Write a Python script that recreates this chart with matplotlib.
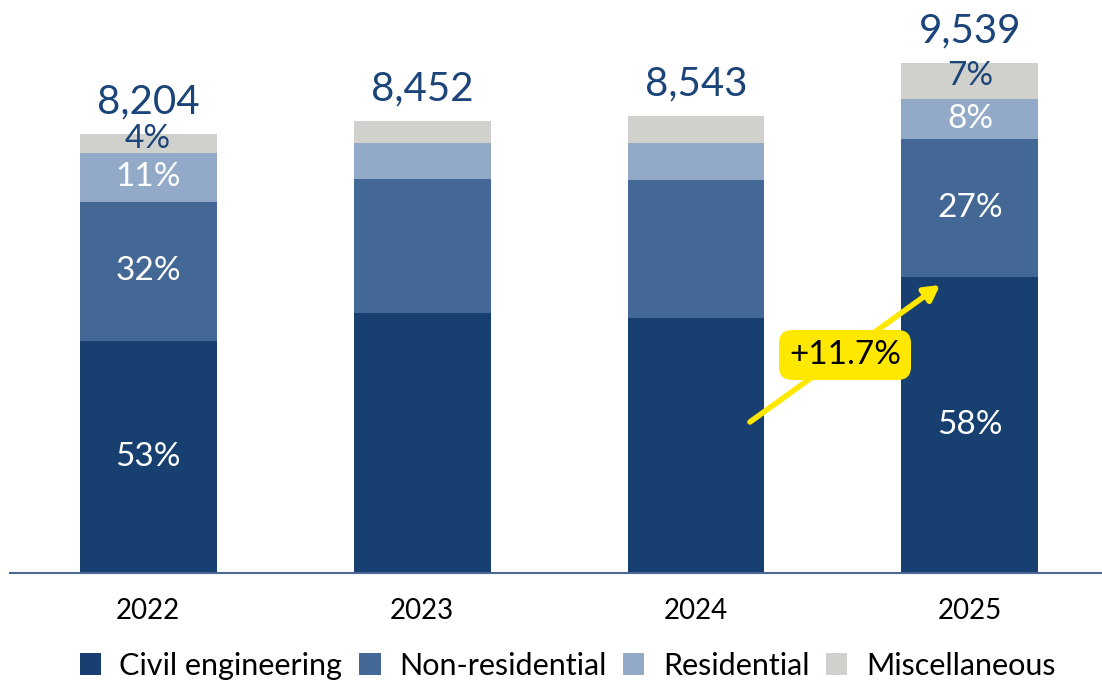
import matplotlib
matplotlib.use("Agg")
import matplotlib.pyplot as plt
from matplotlib.patches import Patch
import numpy as np

plt.rcParams['font.family'] = ['Lato', 'DejaVu Sans']

years = ["2022", "2023", "2024", "2025"]
totals = [8204, 8452, 8543, 9539]
series_names = ["Civil engineering", "Non-residential", "Residential", "Miscellaneous"]
civil = [4345, 4862, 4769, 5530]
non_res = [2600, 2507, 2581, 2590]
residential = [915, 673, 692, 745]
misc = [344, 410, 501, 674]
pct_labels = [
    ["53%", "", "", "58%"],
    ["32%", "", "", "27%"],
    ["11%", "", "", "8%"],
    ["4%", "", "", "7%"],
]
growth_label = "+11.7%"

colors = ["#173F6F", "#436895", "#93A9C8", "#D0D1CC"]
pct_colors = ["white", "white", "white", "#1B4478"]
total_color = "#1B4478"

fig = plt.figure(figsize=(11.02, 6.85), dpi=100)
ax = fig.add_axes([10/1102, (685-573)/685, 1092/1102, 573/685])

x = np.arange(len(years))
width = 0.5
series = [civil, non_res, residential, misc]
bottom = np.zeros(len(years))
for i, vals in enumerate(series):
    vals = np.array(vals)
    ax.bar(x, vals, width, bottom=bottom, color=colors[i], edgecolor="none", zorder=2)
    for j in range(len(years)):
        lab = pct_labels[i][j]
        if lab:
            ax.text(x[j], bottom[j] + vals[j] / 2 + (90 if i == 3 else 0), lab,
                    ha="center", va="center", fontsize=24, color=pct_colors[i], zorder=3)
    bottom = bottom + vals

for j in range(len(years)):
    ax.text(x[j], totals[j] + 260, f"{totals[j]:,}", ha="center", va="bottom",
            fontsize=29, color=total_color)

ax.set_xlim(-0.504, 3.482)
ax.set_ylim(0, 10716)
ax.set_xticks(x)
ax.set_xticklabels(years, fontsize=20)
ax.tick_params(axis="x", length=0, pad=18)
ax.set_yticks([])
for s in ["top", "right", "left"]:
    ax.spines[s].set_visible(False)
ax.spines["bottom"].set_color("#4A6A95")
ax.spines["bottom"].set_linewidth(1.5)

# growth arrow
ax.annotate("", xy=(2.891, 5386), xytext=(2.197, 2824),
            arrowprops=dict(arrowstyle="-|>,head_length=0.9,head_width=0.5",
                            color="#FFE800", lw=4, shrinkA=0, shrinkB=0), zorder=4)
ax.text(2.544, 4077, growth_label, ha="center", va="center", fontsize=24, color="black",
        zorder=5,
        bbox=dict(boxstyle="round,pad=0.3,rounding_size=0.4", fc="#FFE800", ec="none"))

handles = [Patch(facecolor=c, edgecolor="none") for c in colors]
fig.legend(handles, series_names, loc="center", bbox_to_anchor=(0.515, 0.028),
           ncol=4, frameon=False, fontsize=22, handlelength=0.7, handleheight=0.7,
           handletextpad=0.6, columnspacing=0.55)

fig.savefig("out.png", dpi=100, facecolor="white")
